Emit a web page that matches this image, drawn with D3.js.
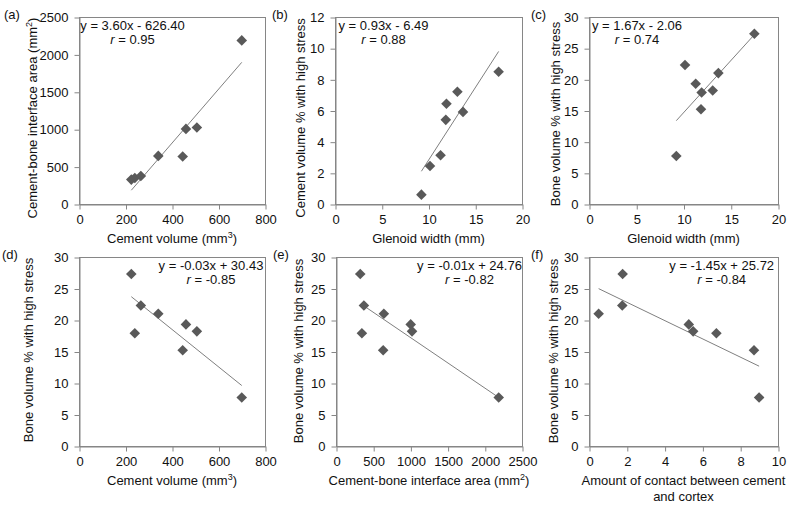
<!DOCTYPE html>
<html>
<head>
<meta charset="utf-8">
<script src="https://cdn.jsdelivr.net/npm/d3@7"></script>
<style>
  html, body { margin: 0; padding: 0; background: #ffffff; }
  svg { display: block; font-family: "Liberation Sans", Arial, sans-serif; }
</style>
</head>
<body>
<svg id="chart" width="800" height="506"></svg>
<script>
// ---------------- DATA (one entry per specimen, A..H) ----------------
const specimens = ["A", "B", "C", "D", "E", "F", "G", "H"];
const cementVolume = [225, 240, 266, 341, 446, 460, 507, 700];          // mm3
const interfaceArea = [326, 348, 375, 643, 634, 1004, 1022, 2187];      // mm2
const glenoidWidth = [17.5, 11.92, 10.16, 13.69, 11.85, 11.29, 13.09, 9.24]; // mm
const cementStress = [8.49, 6.43, 2.44, 5.91, 5.40, 3.13, 7.20, 0.60];  // %
const boneStress = [27.3, 17.9, 22.3, 21.0, 15.2, 19.3, 18.2, 7.7];     // %
const contactAmount = [1.78, 6.74, 1.76, 0.51, 8.73, 5.28, 5.51, 9.0];

// panel labels, axis titles, tick values
const panelLabels = ["(a)", "(b)", "(c)", "(d)", "(e)", "(f)"];
const xTitles = [
  ["Cement volume (mm", "3", ")"],
  ["Glenoid width (mm)"],
  ["Glenoid width (mm)"],
  ["Cement volume (mm", "3", ")"],
  ["Cement-bone interface area (mm", "2", ")"],
  ["Amount of contact between cement", "and cortex"]
];
const yTitles = [
  ["Cement-bone interface area (mm", "2", ")"],
  ["Cement volume % with high stress"],
  ["Bone volume % with high stress"],
  ["Bone volume % with high stress"],
  ["Bone volume % with high stress"],
  ["Bone volume % with high stress"]
];
const xTicks = [
  [0, 200, 400, 600, 800],
  [0, 5, 10, 15, 20],
  [0, 5, 10, 15, 20],
  [0, 200, 400, 600, 800],
  [0, 500, 1000, 1500, 2000, 2500],
  [0, 2, 4, 6, 8, 10]
];
const yTicks = [
  [0, 500, 1000, 1500, 2000, 2500],
  [0, 2, 4, 6, 8, 10, 12],
  [0, 5, 10, 15, 20, 25, 30],
  [0, 5, 10, 15, 20, 25, 30],
  [0, 5, 10, 15, 20, 25, 30],
  [0, 5, 10, 15, 20, 25, 30]
];
const xValues = [cementVolume, glenoidWidth, glenoidWidth, cementVolume, interfaceArea, contactAmount];
const yValues = [interfaceArea, cementStress, boneStress, boneStress, boneStress, boneStress];
const equations = [
  "y = 3.60x - 626.40",
  "y = 0.93x - 6.49",
  "y = 1.67x - 2.06",
  "y = -0.03x + 30.43",
  "y = -0.01x + 24.76",
  "y = -1.45x + 25.72"
];
const rValues = ["0.95", "0.88", "0.74", "-0.85", "-0.82", "-0.84"];
// trend line end points (x, y)
const trendStart = [[225, 184], [9.24, 2.10], [9.24, 13.37], [225, 23.7], [367, 22.3], [0.51, 24.98]];
const trendEnd = [[700, 1894], [17.5, 9.79], [17.5, 27.17], [700, 9.6], [2187, 7.7], [9.0, 12.67]];

// ---------------- LAYOUT ----------------
const layout = [
  { l: 79, r: 265, t: 17, b: 204, ytx: 32, yty: 118, lab: [4, 14], eqx: 132.5 },
  { l: 335, r: 522, t: 17, b: 204, ytx: 300, yty: 118, lab: [272, 14], eqx: 383.5 },
  { l: 589, r: 778, t: 17, b: 204, ytx: 555, yty: 114, lab: [531, 14], eqx: 637 },
  { l: 79, r: 265, t: 257, b: 446, ytx: 28, yty: 350, lab: [2, 254], eqx: 211 },
  { l: 336, r: 522, t: 257, b: 446, ytx: 298, yty: 351, lab: [273, 254], eqx: 469.5 },
  { l: 589, r: 778, t: 257, b: 446, ytx: 553, yty: 351, lab: [531, 254], eqx: 721.7 }
];

const svg = d3.select("#chart");
svg.append("rect").attr("width", 800).attr("height", 506).attr("fill", "#ffffff");

const textColor = "#111111";
const axisColor = "#868686";
const markerColor = "#595959";
const lineColor = "#7f7f7f";
const fs = 13;

function addTitle(sel, parts) {
  sel.append("tspan").text(parts[0]);
  if (parts.length === 3) {
    sel.append("tspan").attr("font-size", 9).attr("dy", -5).text(parts[1]);
    sel.append("tspan").attr("dy", 5).text(parts[2]);
  }
}

const diamond = d3.symbol().type(d3.symbolSquare).size(56);

layout.forEach((L, i) => {
  const xDom = [xTicks[i][0], xTicks[i][xTicks[i].length - 1]];
  const yDom = [yTicks[i][0], yTicks[i][yTicks[i].length - 1]];
  const x = d3.scaleLinear().domain(xDom).range([L.l, L.r]);
  const y = d3.scaleLinear().domain(yDom).range([L.b, L.t]);
  const g = svg.append("g");

  // frame
  g.append("rect")
    .attr("x", L.l + 0.5).attr("y", L.t + 0.5)
    .attr("width", L.r - L.l).attr("height", L.b - L.t)
    .attr("fill", "none").attr("stroke", axisColor).attr("stroke-width", 1);

  // axes
  const ax = g.append("g").attr("transform", `translate(0.5,${L.b + 0.5})`)
    .call(d3.axisBottom(x).tickValues(xTicks[i]).tickFormat(d3.format("d"))
      .tickSize(5).tickSizeOuter(0).tickPadding(5));
  const ay = g.append("g").attr("transform", `translate(${L.l + 0.5},0.5)`)
    .call(d3.axisLeft(y).tickValues(yTicks[i]).tickFormat(d3.format("d"))
      .tickSize(5).tickSizeOuter(0).tickPadding(6));
  [ax, ay].forEach(a => {
    a.select(".domain").attr("stroke", axisColor);
    a.selectAll(".tick line").attr("stroke", axisColor);
    a.selectAll(".tick text").attr("fill", textColor).attr("font-size", fs)
      .attr("font-family", "Liberation Sans, Arial, sans-serif");
  });

  // trend line
  g.append("line")
    .attr("x1", x(trendStart[i][0])).attr("y1", y(trendStart[i][1]))
    .attr("x2", x(trendEnd[i][0])).attr("y2", y(trendEnd[i][1]))
    .attr("stroke", lineColor).attr("stroke-width", 1);

  // markers
  g.selectAll("path.pt").data(specimens).enter().append("path")
    .attr("class", "pt")
    .attr("d", diamond)
    .attr("transform", (d, k) => `translate(${x(xValues[i][k])},${y(yValues[i][k])}) rotate(45)`)
    .attr("fill", markerColor);

  // equation + r
  g.append("text").attr("x", L.eqx).attr("y", L.t + 12.5)
    .attr("text-anchor", "middle").attr("font-size", fs).attr("fill", textColor)
    .text(equations[i]);
  const rt = g.append("text").attr("x", L.eqx).attr("y", L.t + 26.5)
    .attr("text-anchor", "middle").attr("font-size", fs).attr("fill", textColor);
  rt.append("tspan").attr("font-style", "italic").text("r");
  rt.append("tspan").text(" = " + rValues[i]);

  // x title
  const xt = g.append("text").attr("x", (L.l + L.r) / 2).attr("y", L.b + 39)
    .attr("text-anchor", "middle").attr("font-size", fs).attr("fill", textColor);
  if (xTitles[i].length === 2) {
    xt.text(xTitles[i][0]);
    g.append("text").attr("x", (L.l + L.r) / 2).attr("y", L.b + 55)
      .attr("text-anchor", "middle").attr("font-size", fs).attr("fill", textColor)
      .text(xTitles[i][1]);
  } else {
    addTitle(xt, xTitles[i]);
  }

  // y title
  const yt = g.append("text")
    .attr("transform", `translate(${L.ytx + 4.5},${L.yty}) rotate(-90)`)
    .attr("text-anchor", "middle").attr("font-size", fs).attr("fill", textColor);
  addTitle(yt, yTitles[i]);

  // panel label
  svg.append("text").attr("x", L.lab[0]).attr("y", L.lab[1] + 4.5)
    .attr("font-size", fs).attr("fill", textColor).text(panelLabels[i]);
});
</script>
</body>
</html>
